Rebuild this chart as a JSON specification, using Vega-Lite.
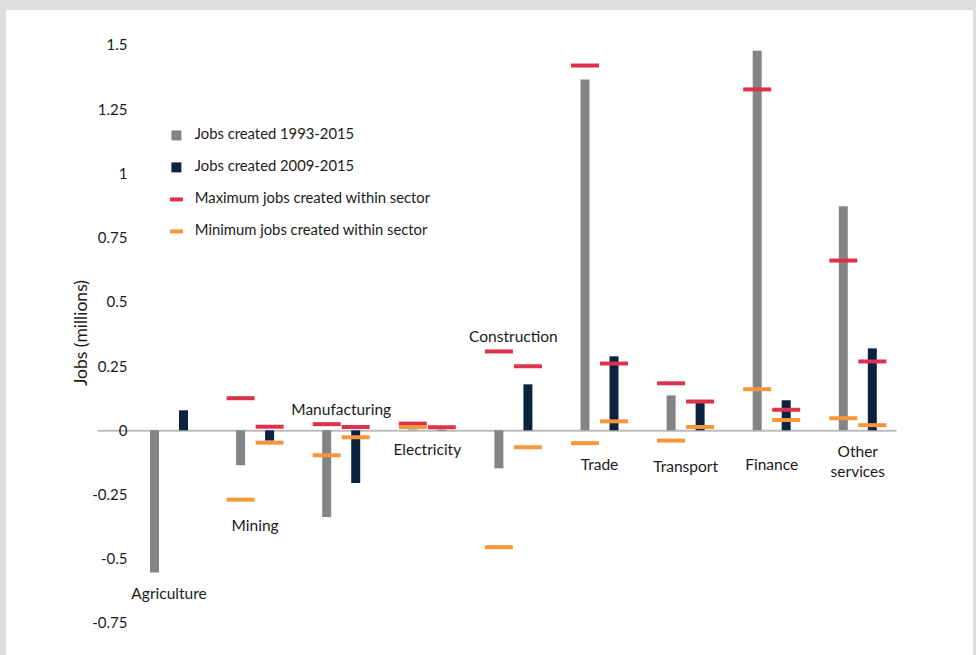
{
  "$schema": "https://vega.github.io/schema/vega-lite/v6.json",
  "width": 967,
  "height": 645,
  "autosize": {"type": "none"},
  "padding": {"left": 6, "top": 10, "right": 3, "bottom": 0},
  "background": "#dedede",
  "config": {
    "view": {"stroke": null, "fill": "#ffffff"},
    "font": "Lato",
    "legend": {
      "padding": 0,
      "symbolStrokeWidth": 0,
      "rowPadding": 16,
      "labelOffset": 11,
      "symbolSize": 100,
      "symbolType": "square",
      "labelFont": "Lato",
      "labelFontSize": 14.8,
      "labelColor": "#1a1a1a",
      "labelLimit": 400
    }
  },
  "datasets": {
    "jobs": [
      {"sector": "Agriculture", "series": "Jobs created 1993-2015", "jobs": -0.553, "max": null, "min": null},
      {"sector": "Agriculture", "series": "Jobs created 2009-2015", "jobs": 0.078, "max": null, "min": null},
      {"sector": "Mining", "series": "Jobs created 1993-2015", "jobs": -0.136, "max": 0.125, "min": -0.27},
      {"sector": "Mining", "series": "Jobs created 2009-2015", "jobs": -0.04, "max": 0.014, "min": -0.048},
      {"sector": "Manufacturing", "series": "Jobs created 1993-2015", "jobs": -0.337, "max": 0.024, "min": -0.097},
      {"sector": "Manufacturing", "series": "Jobs created 2009-2015", "jobs": -0.205, "max": 0.013, "min": -0.027},
      {"sector": "Electricity", "series": "Jobs created 1993-2015", "jobs": 0.003, "max": 0.026, "min": 0.013},
      {"sector": "Electricity", "series": "Jobs created 2009-2015", "jobs": 0.002, "max": 0.012, "min": null},
      {"sector": "Construction", "series": "Jobs created 1993-2015", "jobs": -0.148, "max": 0.307, "min": -0.455},
      {"sector": "Construction", "series": "Jobs created 2009-2015", "jobs": 0.179, "max": 0.249, "min": -0.066},
      {"sector": "Trade", "series": "Jobs created 1993-2015", "jobs": 1.366, "max": 1.42, "min": -0.05},
      {"sector": "Trade", "series": "Jobs created 2009-2015", "jobs": 0.288, "max": 0.26, "min": 0.035},
      {"sector": "Transport", "series": "Jobs created 1993-2015", "jobs": 0.136, "max": 0.183, "min": -0.04},
      {"sector": "Transport", "series": "Jobs created 2009-2015", "jobs": 0.112, "max": 0.112, "min": 0.013},
      {"sector": "Finance", "series": "Jobs created 1993-2015", "jobs": 1.478, "max": 1.327, "min": 0.16},
      {"sector": "Finance", "series": "Jobs created 2009-2015", "jobs": 0.117, "max": 0.08, "min": 0.04},
      {"sector": "Other services", "series": "Jobs created 1993-2015", "jobs": 0.872, "max": 0.661, "min": 0.047},
      {"sector": "Other services", "series": "Jobs created 2009-2015", "jobs": 0.319, "max": 0.268, "min": 0.02}
    ],
    "labels": [
      {"sector": "Agriculture", "label": "Agriculture", "labelValue": -0.637},
      {"sector": "Mining", "label": "Mining", "labelValue": -0.372},
      {"sector": "Manufacturing", "label": "Manufacturing", "labelValue": 0.079},
      {"sector": "Electricity", "label": "Electricity", "labelValue": -0.077},
      {"sector": "Construction", "label": "Construction", "labelValue": 0.363},
      {"sector": "Trade", "label": "Trade", "labelValue": -0.135},
      {"sector": "Transport", "label": "Transport", "labelValue": -0.142},
      {"sector": "Finance", "label": "Finance", "labelValue": -0.135},
      {"sector": "Other services", "label": "Other\nservices", "labelValue": -0.085}
    ]
  },
  "layer": [
    {
      "data": {"name": "jobs"},
      "mark": {"type": "bar"},
      "encoding": {
        "x": {
          "field": "sector", "type": "nominal", "title": null,
          "scale": {
            "domain": ["Agriculture", "Mining", "Manufacturing", "Electricity", "Construction", "Trade", "Transport", "Finance", "Other services"],
            "range": [91, 890], "paddingInner": 0.3, "paddingOuter": 0.29, "align": 0.8385
          },
          "axis": {"orient": "bottom", "offset": -224.7, "labels": false, "ticks": false, "grid": false, "domainColor": "#bcbcbc", "domainWidth": 2}
        },
        "xOffset": {
          "field": "series", "type": "nominal",
          "scale": {"domain": ["Jobs created 1993-2015", "Jobs created 2009-2015"], "paddingInner": 0.69, "paddingOuter": 0.384}
        },
        "y": {
          "field": "jobs", "type": "quantitative", "title": "Jobs (millions)",
          "scale": {"domain": [-0.8746, 1.6362], "nice": false, "zero": false},
          "axis": {
            "orient": "left", "values": [-0.75, -0.5, -0.25, 0, 0.25, 0.5, 0.75, 1, 1.25, 1.5],
            "labelExpr": "'' + datum.value", "domain": false, "ticks": false, "tickSize": 0, "grid": false,
            "offset": -121, "labelPadding": 0, "labelFont": "Lato", "labelFontSize": 15, "labelColor": "#1a1a1a",
            "titleFont": "Lato", "titleFontSize": 17.5, "titleFontWeight": "normal", "titleColor": "#1a1a1a", "titlePadding": 1
          }
        },
        "y2": {"datum": 0},
        "color": {
          "field": "series", "type": "nominal",
          "scale": {
            "domain": ["Jobs created 1993-2015", "Jobs created 2009-2015", "Maximum jobs created within sector", "Minimum jobs created within sector"],
            "range": ["#838487", "#0b2240", "#dc324c", "#f8963a"]
          },
          "legend": {
            "title": null, "orient": "none", "legendX": 163, "legendY": 118,
            "encode": {"symbols": {"update": {"shape": {"signal": "indexof(datum.value, 'sector') >= 0 ? 'M-1.3,-0.4H1.3V0.4H-1.3Z' : 'square'"}}}}
          }
        }
      }
    },
    {
      "data": {"name": "jobs"},
      "mark": {"type": "tick", "size": 28, "thickness": 4, "opacity": 1},
      "encoding": {
        "x": {"field": "sector", "type": "nominal", "title": null},
        "xOffset": {"field": "series", "type": "nominal"},
        "y": {"field": "max", "type": "quantitative", "title": "Jobs (millions)"},
        "color": {"datum": "Maximum jobs created within sector"}
      }
    },
    {
      "data": {"name": "jobs"},
      "mark": {"type": "tick", "size": 28, "thickness": 4, "opacity": 1},
      "encoding": {
        "x": {"field": "sector", "type": "nominal", "title": null},
        "xOffset": {"field": "series", "type": "nominal"},
        "y": {"field": "min", "type": "quantitative", "title": "Jobs (millions)"},
        "color": {"datum": "Minimum jobs created within sector"}
      }
    },
    {
      "data": {"name": "labels"},
      "mark": {"type": "text", "font": "Lato", "fontSize": 15.5, "color": "#1a1a1a", "lineBreak": "\n", "lineHeight": 20, "baseline": "middle"},
      "encoding": {
        "x": {"field": "sector", "type": "nominal", "title": null},
        "y": {"field": "labelValue", "type": "quantitative", "title": "Jobs (millions)"},
        "text": {"field": "label"}
      }
    }
  ]
}
